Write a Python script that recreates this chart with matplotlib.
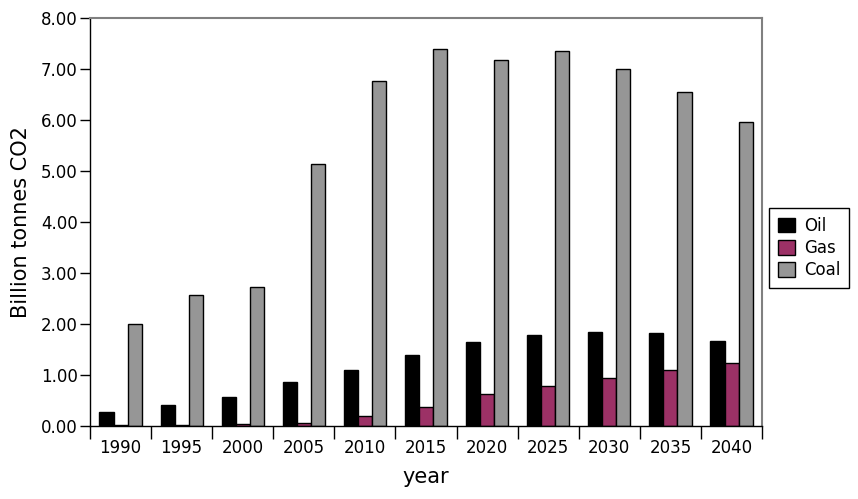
import matplotlib.pyplot as plt
import numpy as np

anos = ["1990", "1995", "2000", "2005", "2010", "2015", "2020", "2025", "2030", "2035", "2040"]
oil = [0.29, 0.43, 0.58, 0.88, 1.11, 1.41, 1.66, 1.80, 1.86, 1.84, 1.68]
gas = [0.02, 0.03, 0.04, 0.07, 0.21, 0.39, 0.64, 0.79, 0.95, 1.11, 1.24]
coal = [2.01, 2.58, 2.73, 5.14, 6.78, 7.39, 7.18, 7.35, 7.00, 6.55, 5.96]

x = np.arange(len(anos))
width = 0.23

fig = plt.figure(figsize=(8.58, 4.99), dpi=100)
ax = fig.add_axes([0.1049, 0.1453, 0.7833, 0.8180])

kw = dict(edgecolor="black", linewidth=1.0)
ax.bar(x - width, oil, width, color="black", label="Oil", **kw)
ax.bar(x, gas, width, color="#9c3166", label="Gas", **kw)
ax.bar(x + width, coal, width, color="#969696", label="Coal", **kw)

ax.set_xlim(-0.5, len(anos) - 0.5)
ax.set_ylim(0, 8)
ax.set_yticks(np.arange(0, 9, 1))
ax.set_yticklabels([f"{v:.2f}" for v in np.arange(0, 9, 1)], fontsize=12)
ax.set_xticks(x)
ax.set_xticklabels(anos, fontsize=12)
ax.tick_params(axis="x", which="major", length=0, pad=9)
ax.set_xticks(np.arange(-0.5, len(anos)), minor=True)
ax.tick_params(axis="x", which="minor", length=9, width=1, color="black")
ax.tick_params(axis="y", length=7, width=1, color="black", pad=2)

for lado in ["top", "right"]:
    ax.spines[lado].set_color("#808080")
    ax.spines[lado].set_linewidth(1.5)
for lado in ["left", "bottom"]:
    ax.spines[lado].set_color("black")
    ax.spines[lado].set_linewidth(1.0)

ax.set_xlabel("year", fontsize=15, labelpad=7)
ax.set_ylabel("Billion tonnes CO2", fontsize=15, labelpad=7)

leg = ax.legend(loc="center left", bbox_to_anchor=(1.01, 0.4375), borderaxespad=0,
                fontsize=12, frameon=True, fancybox=False, edgecolor="black",
                framealpha=1, handlelength=1.0, handleheight=1.0,
                handletextpad=0.55, labelspacing=0.25, borderpad=0.55)
leg.get_frame().set_linewidth(1.0)

fig.savefig("out.png", dpi=100)
